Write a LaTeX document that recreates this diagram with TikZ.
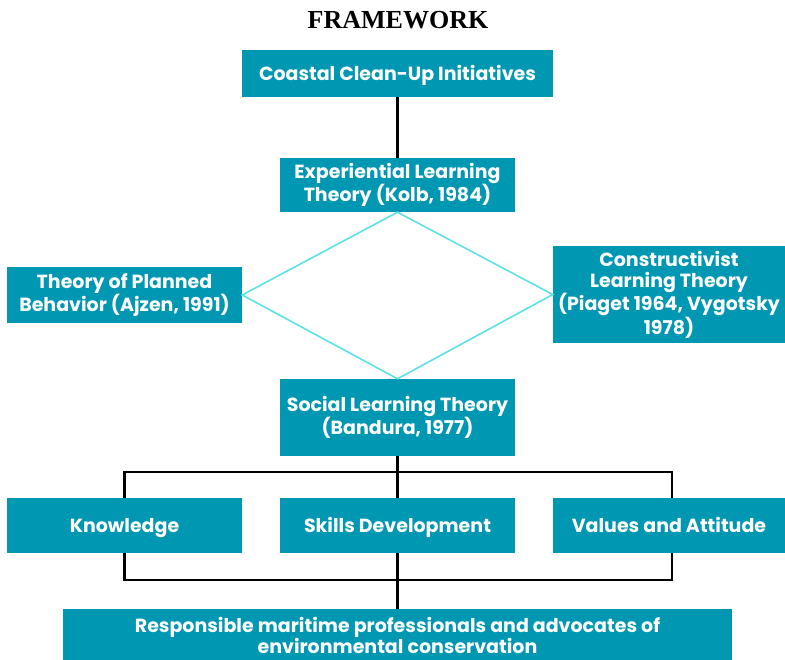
\documentclass[tikz,border=0pt]{standalone}
\usepackage{fontspec}
\setmainfont{Poppins}
\newfontfamily\titlefont{Liberation Serif}
\definecolor{boxteal}{HTML}{0097B2}
\definecolor{lightcyan}{HTML}{5CE1E6}

\begin{document}
\begin{tikzpicture}[x=1pt,y=-1pt,
  tealbox/.style={fill=boxteal,text=white,align=center,inner sep=0pt,
    font=\fontsize{19}{21}\selectfont\bfseries},
  onerow/.style={text height=13.5pt,text depth=0pt},
  link/.style={line width=2.2pt,black}]
\useasboundingbox (0,0) rectangle (785,660);
\node[font=\titlefont\fontsize{26}{30}\selectfont\bfseries] (title) at (398,20) {FRAMEWORK};
\node[tealbox,onerow,minimum width=311pt,minimum height=47pt] (cci) at (397.5,73.5) {Coastal Clean-Up Initiatives};
\node[tealbox,minimum width=235pt,minimum height=54pt] (elt) at (397.5,185) {Experiential Learning\\Theory (Kolb, 1984)};
\node[tealbox,minimum width=235pt,minimum height=56pt] (tpb) at (124.5,295) {Theory of Planned\\Behavior (Ajzen, 1991)};
\node[tealbox,minimum width=232pt,minimum height=97pt] (clt) at (669,294.5) {Constructivist\\Learning Theory\\(Piaget 1964, Vygotsky\\1978)};
\node[tealbox,minimum width=235pt,minimum height=77pt] (slt) at (397.5,417.5) {Social Learning Theory\\(Bandura, 1977)};
% three outcomes
\node[tealbox,onerow,minimum width=235pt,minimum height=55pt] (know) at (124.5,525.5) {Knowledge};
\node[tealbox,onerow,minimum width=235pt,minimum height=55pt] (skills) at (397.5,525.5) {Skills Development};
\node[tealbox,onerow,minimum width=232pt,minimum height=55pt] (values) at (669,525.5) {Values and Attitude};
\node[tealbox,minimum width=669pt,minimum height=52pt] (result) at (397.5,635) {Responsible maritime professionals and advocates of\\environmental conservation};
\coordinate (topbar) at (398,472);
\coordinate (lowbar) at (398,580);

\draw[link] (cci.south) -- (elt.north);
\draw[lightcyan,line width=1.6pt] (elt.south) -- (tpb.east) -- (slt.north) -- (clt.west) -- cycle;
\draw[link] (slt.south) -- (skills.north);
\draw[link] (know.north) |- (topbar) -| ([xshift=3pt]values.north);
\draw[link] (know.south) |- (lowbar) -| ([xshift=3pt]values.south);
\draw[link] (skills.south) -- (result.north);
\end{tikzpicture}
\end{document}
